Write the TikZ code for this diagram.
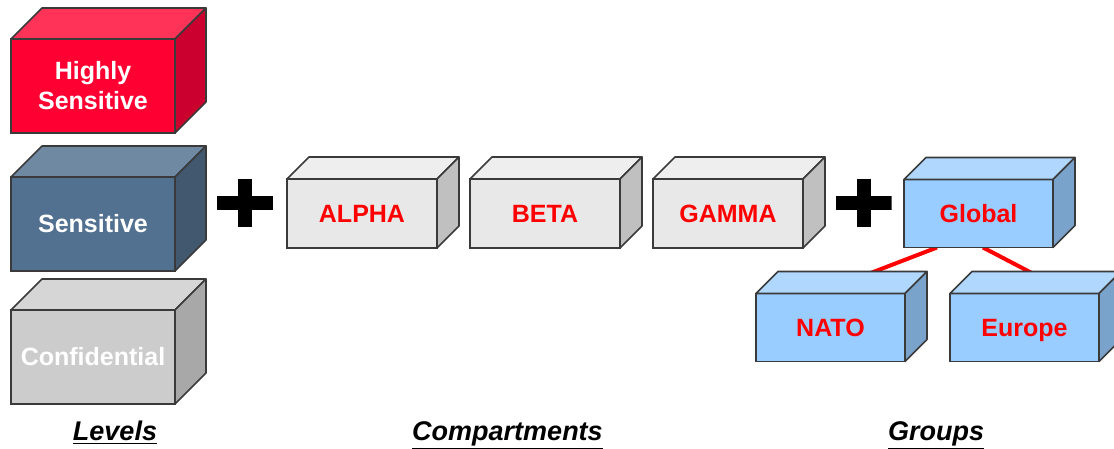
\documentclass[tikz,border=0pt]{standalone}
\usepackage{fontspec}
\setmainfont{Liberation Sans}
\usepackage{tikz}
\usetikzlibrary{positioning,calc,backgrounds}
\definecolor{edge}{HTML}{3A3A3A}
\definecolor{hsfront}{HTML}{FF0033}
\definecolor{hstop}{HTML}{FF3358}
\definecolor{hsside}{HTML}{CC002E}
\definecolor{sfront}{HTML}{52708F}
\definecolor{stop}{HTML}{7089A3}
\definecolor{sside}{HTML}{42586E}
\definecolor{cfront}{HTML}{CCCCCC}
\definecolor{ctop}{HTML}{D6D6D6}
\definecolor{cside}{HTML}{A8A8A8}
\definecolor{compfront}{HTML}{E8E8E8}
\definecolor{comptop}{HTML}{EEEEEE}
\definecolor{compside}{HTML}{C0C0C0}
\definecolor{grpfront}{HTML}{99CCFF}
\definecolor{grptop}{HTML}{B0D8FF}
\definecolor{grpside}{HTML}{7AA3CC}
% top and right faces of a box node: node, depth, top colour, side colour
\newcommand{\cubefaces}[4]{%
  \filldraw[fill=#3,draw=edge,line width=0.8pt,line join=round]
    (#1.north west) -- ++(#2,#2) -- ($(#1.north east)+(#2,#2)$) -- (#1.north east) -- cycle;
  \filldraw[fill=#4,draw=edge,line width=0.8pt,line join=round]
    (#1.north east) -- ++(#2,#2) -- ($(#1.south east)+(#2,#2)$) -- (#1.south east) -- cycle;
}

\begin{document}
\begin{tikzpicture}[
  box/.style={draw=edge,line width=0.8pt,inner sep=0pt,outer sep=0pt,align=center,
    font=\bfseries\fontsize{12.5}{15}\selectfont},
  level/.style={box,minimum width=82pt,minimum height=47pt,text=white},
  comp/.style={box,fill=compfront,minimum width=75pt,minimum height=34.5pt,text=red,
    text height=9pt,text depth=0pt},
  group/.style={box,fill=grpfront,minimum width=74.5pt,minimum height=34pt,text=red,
    text height=9pt,text depth=0pt},
  plus/.style={minimum width=28pt,minimum height=24pt,inner sep=0pt,
    path picture={
      \draw[line width=7pt] (path picture bounding box.west) -- (path picture bounding box.east);
      \draw[line width=7pt] (path picture bounding box.north) -- (path picture bounding box.south);
    }},
  heading/.style={anchor=base,font=\bfseries\itshape\fontsize{13.5}{16}\selectfont},
  tie/.style={red,line width=2pt}
]
\useasboundingbox (0,0) rectangle (557pt,-224.5pt);

\node[level,fill=hsfront] (high) at (46.5pt,-43pt) {Highly\\Sensitive};
\node[level,fill=sfront,below=22pt of high] (sens) {Sensitive};
\node[level,fill=cfront,below=19.5pt of sens] (conf) {Confidential};
\cubefaces{high}{15.5pt}{hstop}{hsside}
\cubefaces{sens}{15.5pt}{stop}{sside}
\cubefaces{conf}{15.5pt}{ctop}{cside}

\node[plus] (plus1) at (122.5pt,-101.5pt) {};

\node[comp] (alpha) at (181pt,-106.75pt) {ALPHA};
\node[comp,right=16.5pt of alpha] (beta) {BETA};
\node[comp,right=16.5pt of beta] (gamma) {GAMMA};
\cubefaces{alpha}{11pt}{comptop}{compside}
\cubefaces{beta}{11pt}{comptop}{compside}
\cubefaces{gamma}{11pt}{comptop}{compside}

\node[plus] (plus2) at (431.75pt,-101.5pt) {};

\node[group,right=50.5pt of gamma] (global) {Global};
\node[group,anchor=north] (nato) at ($(global.south)+(-74pt,-23pt)$) {NATO};
\node[group,right=22.5pt of nato] (europe) {Europe};
\cubefaces{global}{11pt}{grptop}{grpside}
\cubefaces{nato}{11pt}{grptop}{grpside}
\cubefaces{europe}{11pt}{grptop}{grpside}

\begin{scope}[on background layer]
\draw[tie] ($(global.south)+(-20.75pt,0)$) -- ($(nato.north)+(7.75pt,5.5pt)$);
\draw[tie] ($(global.south)+(2.25pt,0)$) -- ($(europe.north)+(12.75pt,5.5pt)$);
\end{scope}

\node[heading] (levels) at (57.5pt,-220pt) {\underline{Levels}};
\node[heading] (comps) at (253.75pt,-220pt) {\underline{Compartments}};
\node[heading] (groups) at (468pt,-220pt) {\underline{Groups}};
\end{tikzpicture}
\end{document}
